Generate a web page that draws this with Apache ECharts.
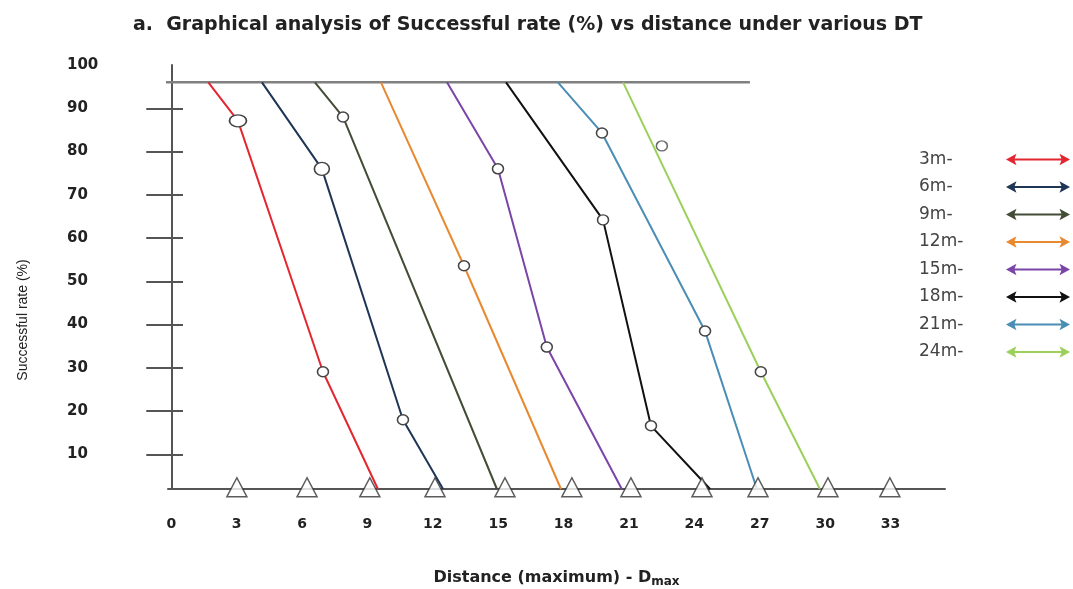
<!DOCTYPE html>
<html>
<head>
<meta charset="utf-8">
<script src="https://cdn.jsdelivr.net/npm/echarts@6/dist/echarts.min.js"></script>
<style>
    html, body { margin: 0; padding: 0; background: #fff; }
    #chart { width: 1073px; height: 589px; }
</style>
</head>
<body>
<div id="chart"></div>
<script>
    // series names (legend)
    const seriesNames = ['3m-', '6m-', '9m-', '12m-', '15m-', '18m-', '21m-', '24m-'];

    // distance (x) and successful rate (y) per DT
    const dist3m = [1.7, 3.06, 6.96, 9.48];
    const rate3m = [96, 87.1, 29.1, 2];
    const dist6m = [4.16, 6.91, 10.63, 12.47];
    const rate6m = [96, 76.0, 18.0, 2];
    const dist9m = [6.59, 7.88, 14.94];
    const rate9m = [96, 88.0, 2];
    const dist12m = [9.62, 13.43, 17.88];
    const rate12m = [96, 53.6, 2];
    const dist15m = [12.65, 14.99, 17.23, 20.67];
    const rate15m = [96, 76.0, 34.8, 2];
    const dist18m = [15.36, 19.81, 22.01, 24.72];
    const rate18m = [96, 64.2, 16.6, 2];
    const dist21m = [17.74, 19.76, 24.49, 26.87];
    const rate21m = [96, 84.3, 38.5, 2];
    const dist24m = [20.73, 27.05, 29.76];
    const rate24m = [96, 29.1, 2];

    // which points carry the open circle
    const rings = [[1, 2], [1, 2], [1], [1], [1, 2], [1, 2], [1, 2], [1]];
    // loose circle next to the 24m line
    const looseRing = [[22.51, 81.3]];

    // triangles sitting on the distance axis
    const triDist = [3.01, 6.23, 9.11, 12.1, 15.31, 18.38, 21.09, 24.35, 26.92, 30.13, 32.97];
    const triRate = 2.4;

    // the "100" bar across the top
    const topLine = [[-1.3, 96], [26.55, 96]];

    // tick labels
    const xTicks = [0, 3, 6, 9, 12, 15, 18, 21, 24, 27, 30, 33];
    const yLabels = [10, 20, 30, 40, 50, 60, 70, 80, 90, 100];
    const yTicks = [10, 20, 30, 40, 50, 60, 70, 80, 90];

    const dists = [dist3m, dist6m, dist9m, dist12m, dist15m, dist18m, dist21m, dist24m];
    const rates = [rate3m, rate6m, rate9m, rate12m, rate15m, rate18m, rate21m, rate24m];

    const colors = ['#e3262f', '#1f3556', '#434d36', '#e8892f', '#7b45a8', '#111111', '#4a8db5', '#9bd05a'];
    const arrow = 'path://M0,6L11,0L9,5L58,5L56,0L67,6L56,12L58,7L9,7L11,12Z';

    const ringStyle = { color: '#fff', borderColor: '#444', borderWidth: 1.5 };

    let myChart = echarts.init(document.getElementById('chart'));

    let series = seriesNames.map((name, s) => {
        let data = dists[s].map((x, i) => {
            let item = { value: [x, rates[s][i]] };
            if (rings[s].indexOf(i) >= 0) {
                item.symbol = 'circle';
                item.symbolSize = [11, 10];
                if (s === 0 && i === 1) item.symbolSize = [17, 12];
                if (s === 1 && i === 1) item.symbolSize = [15, 13];
                item.itemStyle = ringStyle;
            }
            return item;
        });
        return {
            name: name,
            type: 'line',
            data: data,
            symbol: 'none',
            showAllSymbol: true,
            clip: false,
            z: 3,
            lineStyle: { width: 2, color: colors[s] },
            itemStyle: { color: colors[s] }
        };
    });

    series.push({
        type: 'line',
        data: topLine,
        symbol: 'none',
        clip: false,
        silent: true,
        z: 2,
        lineStyle: { width: 2.5, color: '#808080' }
    });
    series.push({
        type: 'scatter',
        data: looseRing,
        symbol: 'circle',
        symbolSize: [11, 10],
        itemStyle: ringStyle,
        z: 4
    });
    series.push({
        type: 'scatter',
        data: triDist.map(x => [x, triRate]),
        symbol: 'triangle',
        symbolSize: [20, 19],
        clip: false,
        itemStyle: { color: '#fff', borderColor: '#333', borderWidth: 1.5 },
        z: 5
    });

    let option = {
        backgroundColor: '#fff',
        animation: false,
        title: {
            text: 'a.  Graphical analysis of Successful rate (%) vs distance under various DT',
            left: 128,
            top: 11,
            textStyle: { fontFamily: 'DejaVu Sans', fontWeight: 'bold', fontSize: 19, color: '#222' }
        },
        legend: {
            data: seriesNames,
            orient: 'vertical',
            left: 914,
            top: 146,
            align: 'right',
            icon: arrow,
            itemWidth: 64,
            itemHeight: 12,
            itemGap: 10.5,
            formatter: '{a|{name}}',
            textStyle: {
                color: '#444',
                rich: {
                    a: { width: 82, align: 'left', fontFamily: 'DejaVu Sans', fontSize: 17, lineHeight: 18, color: '#444' }
                }
            }
        },
        grid: { left: 168, right: 128, top: 65, bottom: 100, outerBoundsMode: 'none', containLabel: false },
        xAxis: {
            type: 'value',
            min: -0.15,
            max: 35.5,
            name: '{a|Distance (maximum) - D}{b|max}',
            nameLocation: 'middle',
            nameGap: 79,
            nameTextStyle: {
                rich: {
                    a: { fontFamily: 'DejaVu Sans', fontWeight: 'bold', fontSize: 16, color: '#222' },
                    b: { fontFamily: 'DejaVu Sans', fontWeight: 'bold', fontSize: 12, color: '#222', padding: [8, 0, 0, 0] }
                }
            },
            splitLine: { show: false },
            axisTick: { show: false },
            axisLine: { lineStyle: { color: '#555', width: 2 } },
            axisLabel: {
                customValues: xTicks,
                margin: 28,
                fontFamily: 'DejaVu Sans',
                fontWeight: 'bold',
                fontSize: 14,
                color: '#222'
            }
        },
        yAxis: [{
            type: 'value',
            min: 2,
            max: 100,
            name: 'Successful rate (%)',
            nameLocation: 'middle',
            nameGap: 138,
            nameTextStyle: { fontFamily: 'Liberation Sans', fontSize: 14, color: '#222', padding: [0, 86, 0, 0] },
            splitLine: { show: false },
            axisLine: { show: true, lineStyle: { color: '#555', width: 2 } },
            axisTick: { show: true, customValues: yTicks, length: 25, lineStyle: { color: '#555', width: 2 } },
            axisLabel: {
                customValues: yLabels,
                margin: 101,
                align: 'left',
                fontFamily: 'DejaVu Sans',
                fontWeight: 'bold',
                fontSize: 15,
                color: '#222'
            }
        }, {
            type: 'value',
            min: 2,
            max: 100,
            position: 'left',
            splitLine: { show: false },
            axisLine: { show: false },
            axisTick: { show: true, inside: true, customValues: yTicks, length: 15, lineStyle: { color: '#555', width: 2 } },
            axisLabel: { show: false }
        }],
        series: series
    };
    myChart.setOption(option, true);
</script>
</body>
</html>
